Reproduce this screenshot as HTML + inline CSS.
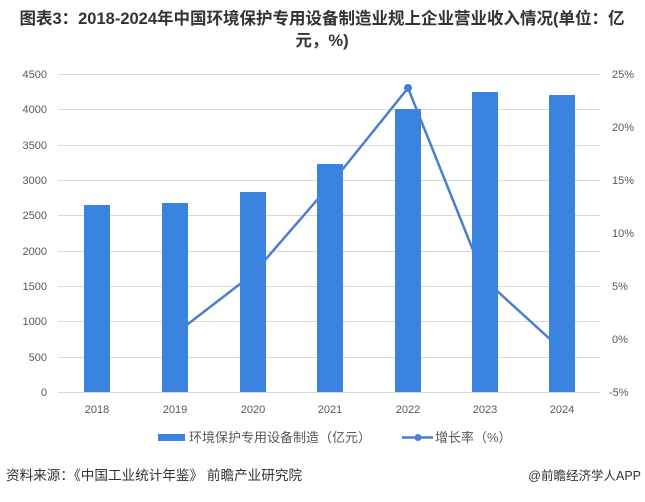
<!DOCTYPE html>
<html><head><meta charset="utf-8"><style>
body{margin:0;background:#fff;}
svg text{font-family:"Liberation Sans","Noto Sans CJK SC",sans-serif;}
</style></head><body>
<svg width="645" height="497" viewBox="0 0 645 497" xmlns="http://www.w3.org/2000/svg">
<text x="322" y="24" text-anchor="middle" font-size="16.5" font-weight="bold" fill="#333">图表3：2018-2024年中国环境保护专用设备制造业规上企业营业收入情况(单位：亿</text>
<text x="322" y="46" text-anchor="middle" font-size="16.5" font-weight="bold" fill="#333">元，%)</text>
<g stroke="#d9d9d9" stroke-width="1">
<line x1="58" x2="600" y1="74.5" y2="74.5"/><line x1="58" x2="600" y1="109.5" y2="109.5"/>
<line x1="58" x2="600" y1="145.5" y2="145.5"/><line x1="58" x2="600" y1="180.5" y2="180.5"/>
<line x1="58" x2="600" y1="215.5" y2="215.5"/><line x1="58" x2="600" y1="251.5" y2="251.5"/>
<line x1="58" x2="600" y1="286.5" y2="286.5"/><line x1="58" x2="600" y1="321.5" y2="321.5"/>
<line x1="58" x2="600" y1="357.5" y2="357.5"/><line x1="58" x2="600" y1="392.5" y2="392.5"/>
</g>
<g font-size="11" fill="#595959" text-anchor="end">
<text x="47" y="78">4500</text><text x="47" y="113">4000</text><text x="47" y="149">3500</text>
<text x="47" y="184">3000</text><text x="47" y="219">2500</text><text x="47" y="255">2000</text>
<text x="47" y="290">1500</text><text x="47" y="325">1000</text><text x="47" y="361">500</text><text x="47" y="396">0</text>
</g>
<g font-size="11" fill="#595959">
<text x="612" y="78">25%</text><text x="612" y="131">20%</text><text x="612" y="184">15%</text>
<text x="612" y="237">10%</text><text x="612" y="290">5%</text><text x="612" y="343">0%</text><text x="609" y="396">-5%</text>
</g>
<polyline points="175,334 253,274 330,185 408,88 485,280 562,350" fill="none" stroke="#4a7fd0" stroke-width="2.5"/>
<circle cx="408" cy="88" r="4" fill="#4a7fd0"/>
<g fill="#3a84e0">
<rect x="84" y="205" width="26" height="187"/>
<rect x="162" y="203" width="26" height="189"/>
<rect x="240" y="192" width="26" height="200"/>
<rect x="317" y="164" width="26" height="228"/>
<rect x="395" y="109" width="26" height="283"/>
<rect x="472" y="92" width="26" height="300"/>
<rect x="549" y="95" width="26" height="297"/>
</g>
<g font-size="11" fill="#595959" text-anchor="middle">
<text x="97" y="413">2018</text><text x="175" y="413">2019</text><text x="253" y="413">2020</text>
<text x="330" y="413">2021</text><text x="408" y="413">2022</text><text x="485" y="413">2023</text><text x="562" y="413">2024</text>
</g>
<rect x="158" y="434" width="27" height="7" fill="#3a84e0"/>
<text x="189" y="442" font-size="13" fill="#595959">环境保护专用设备制造（亿元）</text>
<line x1="402" x2="433" y1="437.5" y2="437.5" stroke="#4a7fd0" stroke-width="2.5"/>
<circle cx="418" cy="437.5" r="3.5" fill="#4a7fd0"/>
<text x="435" y="442" font-size="13" fill="#595959">增长率（%）</text>
<text x="6" y="480" font-size="13.6" fill="#333">资料来源：《中国工业统计年鉴》 前瞻产业研究院</text>
<text x="641" y="480" font-size="12.5" fill="#333" text-anchor="end">@前瞻经济学人APP</text>
</svg>
</body></html>
